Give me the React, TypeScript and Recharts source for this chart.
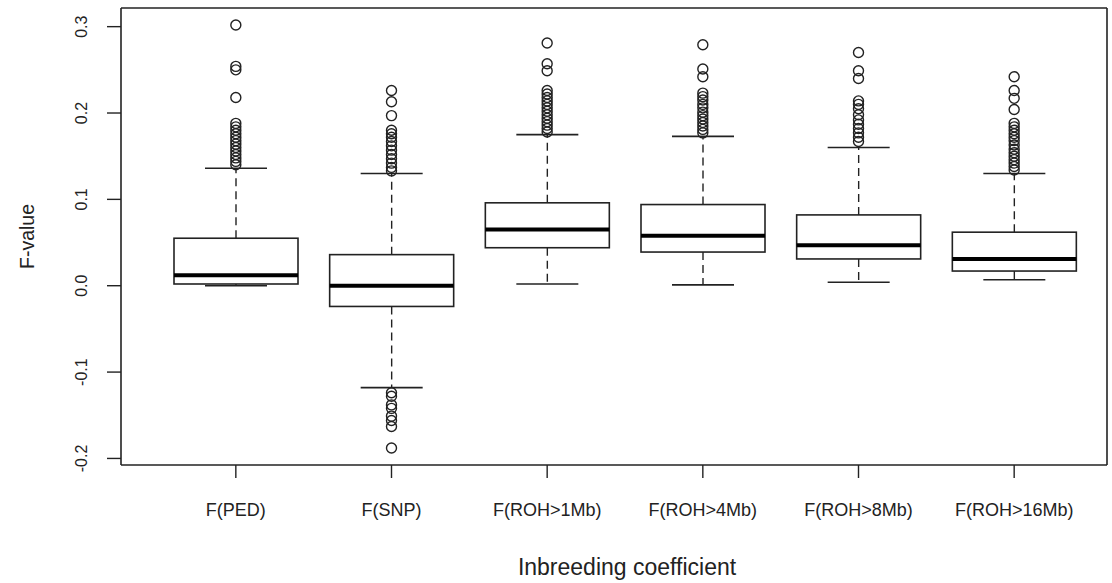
import React from 'react';
import { ComposedChart, Bar, Scatter, XAxis, YAxis, Label } from 'recharts';

// categories along the x axis
const categories = ['F(PED)', 'F(SNP)', 'F(ROH>1Mb)', 'F(ROH>4Mb)', 'F(ROH>8Mb)', 'F(ROH>16Mb)'];

// five-number summaries
const whiskerLow = [0.0, -0.118, 0.002, 0.001, 0.004, 0.007];
const q1 = [0.002, -0.024, 0.044, 0.039, 0.031, 0.017];
const median = [0.012, 0.0, 0.065, 0.058, 0.047, 0.031];
const q3 = [0.055, 0.036, 0.096, 0.094, 0.082, 0.062];
const whiskerHigh = [0.136, 0.13, 0.175, 0.173, 0.16, 0.13];

// outliers per category
const outliers: number[][] = [
  [0.302, 0.254, 0.25, 0.218, 0.188, 0.184, 0.18, 0.176, 0.172, 0.168, 0.164, 0.16, 0.156, 0.152, 0.148, 0.144, 0.14],
  [0.226, 0.213, 0.197, 0.18, 0.176, 0.172, 0.167, 0.162, 0.157, 0.152, 0.147, 0.142, 0.137, 0.133,
    -0.124, -0.128, -0.138, -0.142, -0.151, -0.156, -0.163, -0.188],
  [0.281, 0.257, 0.249, 0.226, 0.222, 0.218, 0.214, 0.21, 0.206, 0.202, 0.198, 0.194, 0.19, 0.186, 0.182, 0.178],
  [0.279, 0.251, 0.242, 0.223, 0.219, 0.215, 0.21, 0.206, 0.201, 0.197, 0.193, 0.189, 0.185, 0.181, 0.177],
  [0.27, 0.249, 0.24, 0.214, 0.21, 0.205, 0.198, 0.192, 0.187, 0.182, 0.177, 0.172, 0.167],
  [0.242, 0.226, 0.217, 0.204, 0.188, 0.184, 0.18, 0.176, 0.172, 0.168, 0.163, 0.158, 0.154, 0.15, 0.146, 0.142, 0.138, 0.134],
];

const yTicks = [-0.2, -0.1, 0.0, 0.1, 0.2, 0.3];
const yDomain = [-0.2076, 0.3216];

const boxData = categories.map((name, i) => ({
  name,
  low: whiskerLow[i],
  q1: q1[i],
  median: median[i],
  q3: q3[i],
  high: whiskerHigh[i],
  range: [whiskerLow[i], whiskerHigh[i]],
}));

const outlierData = categories.flatMap((name, i) => outliers[i].map((v) => ({ name, v })));

const INK = '#222';
const FONT = '"Liberation Sans", Arial, Helvetica, sans-serif';
const xPad = { left: 37, right: 15 };

const BoxShape = (props: any) => {
  const { x, y, width, height, payload } = props;
  const top = Math.min(y, y + height);
  const bottom = Math.max(y, y + height);
  const lo = payload.low;
  const hi = payload.high;
  const py = (v: number) => bottom - ((v - lo) / (hi - lo)) * (bottom - top);
  const cx = x + width / 2;
  const cap = width / 4;
  return (
    <g>
      <line x1={cx} x2={cx} y1={py(payload.q3)} y2={top} stroke={INK} strokeWidth={1.4} strokeDasharray="8 5" />
      <line x1={cx} x2={cx} y1={py(payload.q1)} y2={bottom} stroke={INK} strokeWidth={1.4} strokeDasharray="8 5" />
      <line x1={cx - cap} x2={cx + cap} y1={top} y2={top} stroke={INK} strokeWidth={1.6} />
      <line x1={cx - cap} x2={cx + cap} y1={bottom} y2={bottom} stroke={INK} strokeWidth={1.6} />
      <rect x={x} y={py(payload.q3)} width={width} height={py(payload.q1) - py(payload.q3)} fill="#fff" stroke={INK} strokeWidth={1.6} />
      <line x1={x} x2={x + width} y1={py(payload.median)} y2={py(payload.median)} stroke="#000" strokeWidth={4} />
    </g>
  );
};

const OutlierShape = (props: any) => (
  <circle cx={props.cx} cy={props.cy} r={5} fill="none" stroke={INK} strokeWidth={1.4} />
);

const XTick = (props: any) => {
  const { x, y, payload } = props;
  return (
    <text x={x} y={y + 30} textAnchor="middle" dominantBaseline="central" fontFamily={FONT} fontSize={18} fill="#222">
      {payload.value}
    </text>
  );
};

const YTick = (props: any) => {
  const { y, payload } = props;
  const lx = 82;
  return (
    <text x={lx} y={y} transform={`rotate(-90, ${lx}, ${y})`} textAnchor="middle" dominantBaseline="central" fontFamily={FONT} fontSize={16} fill="#222">
      {payload.value.toFixed(1)}
    </text>
  );
};

export default function App() {
  return (
    <div style={{ position: 'absolute', left: 0, top: 0, background: '#fff' }}>
      <ComposedChart width={1112} height={583} data={boxData} margin={{ top: 7, right: 4, left: 0, bottom: 0 }}>
        <XAxis
          dataKey="name"
          type="category"
          allowDuplicatedCategory={false}
          padding={xPad}
          height={118}
          tickSize={13}
          tickLine={{ stroke: INK, strokeWidth: 1.4 }}
          axisLine={{ stroke: INK, strokeWidth: 1.6 }}
          tick={<XTick />}
        >
          <Label
            content={() => (
              <text x={627} y={567} textAnchor="middle" dominantBaseline="central" fontFamily={FONT} fontSize={23} fill="#222">
                Inbreeding coefficient
              </text>
            )}
          />
        </XAxis>
        <XAxis
          xAxisId="top"
          orientation="top"
          dataKey="name"
          type="category"
          allowDuplicatedCategory={false}
          padding={xPad}
          height={1}
          tick={false}
          tickLine={false}
          axisLine={{ stroke: INK, strokeWidth: 1.6 }}
        />
        <YAxis
          type="number"
          domain={yDomain}
          ticks={yTicks}
          width={121}
          tickSize={14}
          allowDataOverflow
          tickLine={{ stroke: INK, strokeWidth: 1.4 }}
          axisLine={{ stroke: INK, strokeWidth: 1.6 }}
          tick={<YTick />}
        >
          <Label
            content={(p: any) => {
              const vb = p.viewBox || { y: 7, height: 458 };
              const cy = vb.y + vb.height / 2;
              return (
                <text x={27} y={cy} transform={`rotate(-90, 27, ${cy})`} textAnchor="middle" dominantBaseline="central" fontFamily={FONT} fontSize={19.5} fill="#222">
                  F-value
                </text>
              );
            }}
          />
        </YAxis>
        <YAxis
          yAxisId="right"
          orientation="right"
          type="number"
          domain={yDomain}
          allowDataOverflow
          width={1}
          tick={false}
          tickLine={false}
          axisLine={{ stroke: INK, strokeWidth: 1.6 }}
        />
        <Bar dataKey="range" barSize={124} shape={<BoxShape />} isAnimationActive={false} />
        <Scatter
          data={outlierData}
          dataKey="v"
          xAxisId="top"
          yAxisId="right"
          shape={<OutlierShape />}
          isAnimationActive={false}
        />
      </ComposedChart>
    </div>
  );
}
